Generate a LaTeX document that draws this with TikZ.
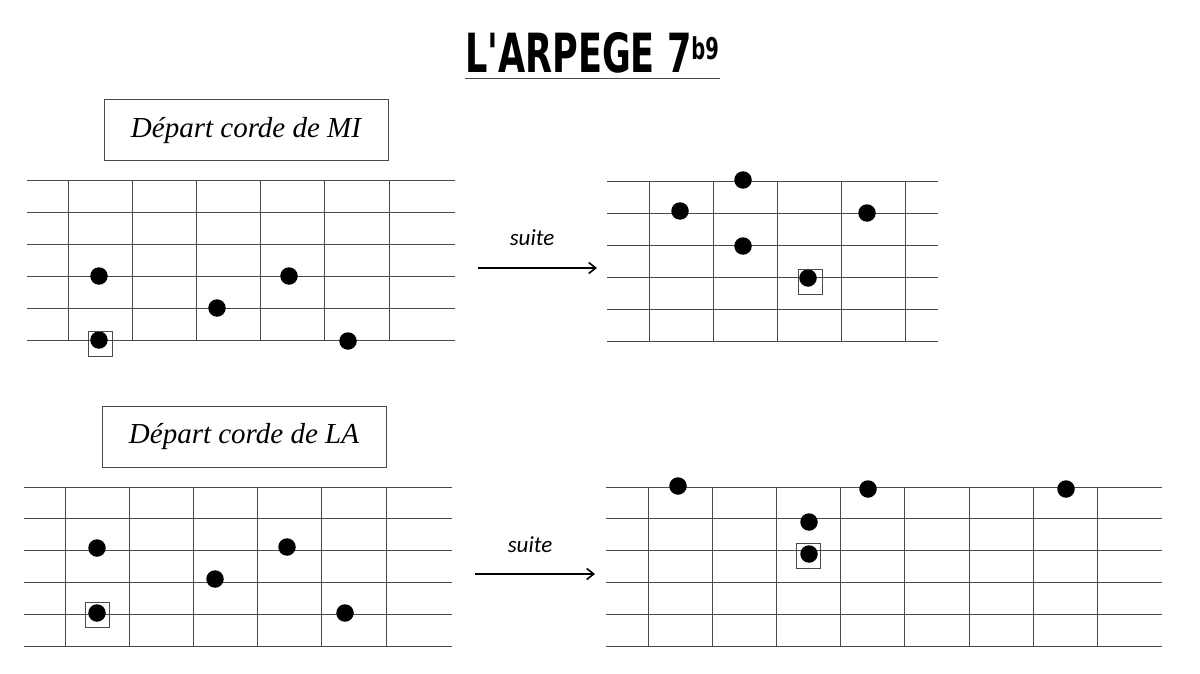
\documentclass[tikz,border=0pt]{standalone}
\usepackage{fontspec}
\usepackage{graphicx}
\usetikzlibrary{calc,arrows.meta}
\newfontfamily\titrefont{DejaVu Sans}
\newfontfamily\cadrefont{Liberation Serif}
\newfontfamily\suitefont{Carlito}
\definecolor{cordecolor}{HTML}{4A4A4A}
\colorlet{notecolor}{black}
\tikzstyle{corde} = [
    draw=cordecolor,
    line width=1pt
    ]
\tikzstyle{note} = [
    circle,
    fill=notecolor,
    inner sep=0pt,
    minimum size=17.5pt
    ]
\tikzstyle{tonique} = [
    draw=cordecolor,
    rectangle,
    line width=0.9pt,
    inner sep=0pt,
    minimum width=24pt,
    minimum height=25pt
    ]
\tikzstyle{cadre} = [
    draw=cordecolor,
    line width=1pt,
    rectangle,
    minimum width=284pt,
    minimum height=61pt,
    font=\cadrefont\itshape\fontsize{29}{34}\selectfont
    ]
\tikzstyle{suite} = [
    font=\suitefont\itshape\fontsize{23}{27}\selectfont
    ]
\tikzstyle{fleche} = [
    -{Straight Barb[length=7pt,width=11pt,line width=1.6pt]},
    line width=1.6pt
    ]
% manche : x gauche, y haut, x droite, x premiere case, nombre de cases
\newcommand{\manche}[5]{%
    \foreach \c in {0,...,5}
        \draw[corde] (#1,#2+31.8*\c) -- (#3,#2+31.8*\c);
    \foreach \f in {1,...,#5}
        \draw[corde] (#4+64.2*\f-64.2,#2) -- (#4+64.2*\f-64.2,#2+159);
}

\begin{document}
\begin{tikzpicture}[x=1pt,y=-1pt]
\useasboundingbox (0,0) rectangle (1200,674);

% titre
\node[font=\titrefont\bfseries\fontsize{54}{60}\selectfont, inner sep=0pt, anchor=base] (titre) at (592,73)
    {\scalebox{0.65}[1]{L'ARPEGE 7\raisebox{0.25em}{\fontsize{30}{30}\selectfont b9}}};
\draw[cordecolor, line width=1pt] (465,79) -- (720,79);

% depart corde de MI
\node[cadre] (cadremi) at (246,130.5) {Départ corde de MI};
\manche{27}{181}{455}{68}{6}
\node[note] (mi1) at (99,276) {};
\node[note] (mi2) at (217,308) {};
\node[note] (mi3) at (289,276) {};
\node[note] (mi4) at (348,341) {};
\node[note] (mi0) at (99,340) {};
\node[tonique] (tmi) at (100.5,344) {};

\coordinate (mideb) at (478,268);
\coordinate (mifin) at (597,268);
\draw[fleche] (mideb) -- (mifin);
\node[suite] (suitemi) at (532,238) {suite};

\manche{607}{182}{938}{649}{5}
\node[note] (mi5) at (743,180) {};
\node[note] (mi6) at (680,211) {};
\node[note] (mi7) at (743,246) {};
\node[note] (mi8) at (867,213) {};
\node[note] (mi9) at (808,278) {};
\node[tonique] (tmi2) at (810,282) {};

% depart corde de LA
\node[cadre] (cadrela) at (244,436.5) {Départ corde de LA};
\manche{24}{487}{452}{65}{6}
\node[note] (la1) at (97,548) {};
\node[note] (la2) at (215,579) {};
\node[note] (la3) at (287,547) {};
\node[note] (la4) at (345,613) {};
\node[note] (la0) at (97,613) {};
\node[tonique] (tla) at (97.5,615) {};

\coordinate (ladeb) at (475,574);
\coordinate (lafin) at (595,574);
\draw[fleche] (ladeb) -- (lafin);
\node[suite] (suitela) at (530,545) {suite};

\manche{606}{487}{1162}{648}{8}
\node[note] (la5) at (678,486) {};
\node[note] (la6) at (868,489) {};
\node[note] (la7) at (1066,489) {};
\node[note] (la8) at (809,522) {};
\node[note] (la9) at (809,554) {};
\node[tonique] (tla2) at (808.5,556) {};
\end{tikzpicture}
\end{document}
